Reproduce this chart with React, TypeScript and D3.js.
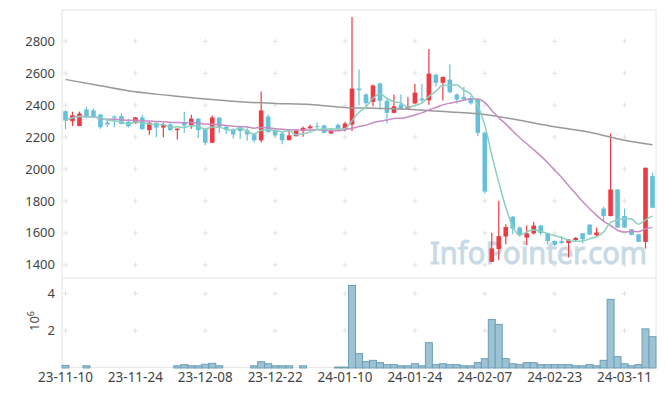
import { useEffect, useRef } from "react";
import * as d3 from "d3";

// trading days shown on the chart
const dates = [
  "2023-11-10", "2023-11-13", "2023-11-14", "2023-11-15", "2023-11-16", "2023-11-17", "2023-11-20", "2023-11-21", "2023-11-22", "2023-11-23",
  "2023-11-24", "2023-11-27", "2023-11-28", "2023-11-29", "2023-11-30", "2023-12-01", "2023-12-04", "2023-12-05", "2023-12-06", "2023-12-07",
  "2023-12-08", "2023-12-11", "2023-12-12", "2023-12-13", "2023-12-14", "2023-12-15", "2023-12-18", "2023-12-19", "2023-12-20", "2023-12-21",
  "2023-12-22", "2023-12-26", "2023-12-27", "2023-12-28", "2024-01-02", "2024-01-03", "2024-01-04", "2024-01-05", "2024-01-08", "2024-01-09",
  "2024-01-10", "2024-01-11", "2024-01-12", "2024-01-15", "2024-01-16", "2024-01-17", "2024-01-18", "2024-01-19", "2024-01-22", "2024-01-23",
  "2024-01-24", "2024-01-25", "2024-01-26", "2024-01-29", "2024-01-30", "2024-01-31", "2024-02-01", "2024-02-02", "2024-02-05", "2024-02-06",
  "2024-02-07", "2024-02-08", "2024-02-13", "2024-02-14", "2024-02-15", "2024-02-16", "2024-02-19", "2024-02-20", "2024-02-21", "2024-02-22",
  "2024-02-23", "2024-02-26", "2024-02-27", "2024-02-28", "2024-02-29", "2024-03-04", "2024-03-05", "2024-03-06", "2024-03-07", "2024-03-08",
  "2024-03-11", "2024-03-12", "2024-03-13", "2024-03-14", "2024-03-15",
];

const opens = [
  2362, 2300, 2269, 2373, 2367, 2342, 2292, 2330, 2331, 2296,
  2287, 2323, 2244, 2290, 2260, 2279, 2244, 2294, 2276, 2316,
  2248, 2165, 2321, 2265, 2248, 2263, 2244, 2217, 2180, 2329,
  2244, 2223, 2181, 2206, 2238, 2256, 2269, 2273, 2223, 2277,
  2248, 2279, 2504, 2467, 2421, 2536, 2427, 2352, 2404, 2379,
  2411, 2442, 2431, 2591, 2540, 2560, 2467, 2452, 2445, 2438,
  2229, 1419, 1500, 1578, 1702, 1634, 1571, 1597, 1646, 1598,
  1550, 1549, 1537, 1556, 1598, 1652, 1586, 1753, 1706, 1872,
  1706, 1623, 1592, 1544, 1956,
];

const highs = [
  2368, 2359, 2360, 2390, 2379, 2345, 2315, 2335, 2350, 2315,
  2326, 2340, 2293, 2292, 2290, 2290, 2256, 2359, 2340, 2318,
  2250, 2336, 2327, 2271, 2256, 2269, 2258, 2227, 2485, 2342,
  2256, 2238, 2238, 2250, 2267, 2278, 2292, 2277, 2256, 2285,
  2296, 2952, 2623, 2475, 2529, 2542, 2436, 2467, 2467, 2450,
  2535, 2532, 2752, 2595, 2580, 2655, 2473, 2515, 2456, 2440,
  2231, 1602, 1802, 1654, 1705, 1640, 1646, 1670, 1650, 1602,
  1553, 1580, 1562, 1575, 1600, 1655, 1633, 1765, 2223, 1874,
  1752, 1625, 1594, 2010, 1977,
];

const lows = [
  2250, 2269, 2269, 2318, 2322, 2252, 2262, 2262, 2280, 2260,
  2285, 2248, 2215, 2200, 2200, 2240, 2185, 2227, 2252, 2195,
  2149, 2163, 2225, 2220, 2192, 2190, 2178, 2166, 2166, 2230,
  2202, 2155, 2180, 2204, 2202, 2250, 2248, 2225, 2221, 2240,
  2235, 2238, 2398, 2375, 2394, 2374, 2286, 2350, 2371, 2375,
  2409, 2420, 2402, 2519, 2430, 2475, 2411, 2430, 2405, 2206,
  1845, 1419, 1431, 1530, 1592, 1577, 1523, 1590, 1585, 1527,
  1520, 1533, 1446, 1548, 1535, 1588, 1577, 1669, 1704, 1630,
  1632, 1585, 1543, 1502, 1755,
];

const closes = [
  2304, 2337, 2348, 2325, 2325, 2262, 2279, 2322, 2282, 2268,
  2324, 2249, 2291, 2260, 2274, 2244, 2253, 2273, 2316, 2244,
  2165, 2323, 2265, 2244, 2217, 2238, 2217, 2180, 2367, 2231,
  2211, 2181, 2211, 2242, 2258, 2267, 2263, 2227, 2244, 2252,
  2285, 2504, 2494, 2413, 2523, 2427, 2352, 2393, 2373, 2394,
  2479, 2431, 2598, 2540, 2577, 2481, 2436, 2436, 2413, 2227,
  1859, 1503, 1580, 1637, 1627, 1586, 1597, 1646, 1600, 1550,
  1526, 1537, 1558, 1569, 1561, 1590, 1603, 1706, 1872, 1634,
  1634, 1588, 1545, 2008, 1758,
];

// volume, millions of shares
const volumes = [
  0.14, 0, 0, 0.12, 0, 0, 0, 0, 0, 0,
  0, 0, 0, 0, 0, 0, 0.12, 0.18, 0.12, 0.12,
  0.2, 0.25, 0.12, 0, 0, 0, 0, 0.12, 0.34, 0.23,
  0.12, 0.12, 0.12, 0, 0.12, 0, 0, 0, 0, 0.05,
  0.05, 4.43, 0.77, 0.34, 0.41, 0.29, 0.18, 0.18, 0.12, 0.12,
  0.23, 0.12, 1.36, 0.18, 0.23, 0.18, 0.18, 0.12, 0.12, 0.29,
  0.5, 2.6, 2.34, 0.5, 0.23, 0.18, 0.29, 0.29, 0.18, 0.18,
  0.18, 0.18, 0.18, 0.12, 0.12, 0.18, 0.12, 0.41, 3.68, 0.61,
  0.23, 0.12, 0.18, 2.1, 1.68,
];

// long moving average at a few days
const longMaDays = [0, 5, 10, 15, 20, 25, 30, 35, 40, 45, 50, 55, 60, 65, 70, 75, 80, 84];
const longMaValues = [2561, 2522, 2484, 2460, 2438, 2421, 2411, 2404, 2386, 2380, 2372, 2358, 2342, 2305, 2265, 2231, 2181, 2153];

const priceTicks = [1400, 1600, 1800, 2000, 2200, 2400, 2600, 2800];
const volumeTicks = [2, 4];

export default function App() {
  const svgRef = useRef<SVGSVGElement | null>(null);

  useEffect(() => {
    if (!svgRef.current) return;
    const svg = d3.select(svgRef.current);
    svg.selectAll("*").remove();

    const left = 62;
    const right = 656;
    const top = 10;
    const split = 278;
    const bottom = 368;
    const font = "'Noto Sans', sans-serif";

    const idx = d3.range(dates.length);
    const x = d3.scaleBand<number>().domain(idx).range([left, right]);
    const cx = (i: number) => (x(i) as number) + x.bandwidth() / 2;
    const y = d3.scaleLinear().domain([1318, 2996]).range([split, top]);
    const yv = d3.scaleLinear().domain([0, 4.83]).range([bottom, split]);

    const xTicks = idx.filter((i) => i % 10 === 0);

    // frame
    svg
      .append("rect")
      .attr("x", left)
      .attr("y", top)
      .attr("width", right - left)
      .attr("height", bottom - 0.7 - top)
      .attr("fill", "none")
      .attr("stroke", "#e4e4e4");
    svg
      .append("line")
      .attr("x1", left)
      .attr("x2", right)
      .attr("y1", split)
      .attr("y2", split)
      .attr("stroke", "#e4e4e4");

    // grid crosses
    const cross = (px: number, py: number) =>
      `M${px - 2.5},${py}H${px + 2.5}M${px},${py - 2.5}V${py + 2.5}`;
    const crossPath = [
      ...xTicks.flatMap((i) => priceTicks.map((t) => cross(cx(i), y(t)))),
      ...xTicks.flatMap((i) => volumeTicks.map((t) => cross(cx(i), yv(t)))),
    ].join("");
    svg.append("path").attr("d", crossPath).attr("stroke", "#e2e2e2").attr("fill", "none");

    // watermark
    svg
      .append("text")
      .attr("x", 430)
      .attr("y", 264)
      .attr("textLength", 217)
      .attr("lengthAdjust", "spacingAndGlyphs")
      .attr("font-family", font)
      .attr("font-size", 31)
      .attr("fill", "#c8dae5")
      .attr("stroke", "#c8dae5")
      .attr("stroke-width", 1)
      .text("InfoPointer.com");

    // candles
    const up = "#ee3a43";
    const down = "#67c0da";
    const candles = svg.append("g").selectAll("g").data(idx).join("g");
    candles
      .append("line")
      .attr("x1", cx)
      .attr("x2", cx)
      .attr("y1", (i) => y(highs[i]))
      .attr("y2", (i) => y(lows[i]))
      .attr("stroke", (i) => (closes[i] >= opens[i] ? up : down))
      .attr("stroke-width", 1.2);
    candles
      .append("rect")
      .attr("x", (i) => cx(i) - 2.3)
      .attr("width", 4.6)
      .attr("y", (i) => y(Math.max(opens[i], closes[i])))
      .attr("height", (i) => Math.max(1, Math.abs(y(opens[i]) - y(closes[i]))))
      .attr("fill", (i) => (closes[i] >= opens[i] ? up : down));

    // moving averages
    const movingAverage = (n: number) =>
      closes.map((_, i) => d3.mean(closes.slice(Math.max(0, i - n + 1), i + 1)) as number);
    const line = d3
      .line<number>()
      .x((_, i) => cx(i))
      .y((v) => y(v))
      .curve(d3.curveMonotoneX);
    const longLine = d3
      .line<number>()
      .x((_, k) => cx(longMaDays[k]))
      .y((v) => y(v))
      .curve(d3.curveMonotoneX);

    svg
      .append("path")
      .attr("d", longLine(longMaValues))
      .attr("fill", "none")
      .attr("stroke", "#999")
      .attr("stroke-width", 1.5);
    svg
      .append("path")
      .attr("d", line(movingAverage(20)))
      .attr("fill", "none")
      .attr("stroke", "#c88bc3")
      .attr("stroke-width", 1.5);
    svg
      .append("path")
      .attr("d", line(movingAverage(5)))
      .attr("fill", "none")
      .attr("stroke", "#8ccfbe")
      .attr("stroke-width", 1.5);

    // volume
    svg
      .append("g")
      .selectAll("rect")
      .data(idx.filter((i) => volumes[i] > 0))
      .join("rect")
      .attr("x", (i) => x(i) as number)
      .attr("width", x.bandwidth())
      .attr("y", (i) => yv(volumes[i]))
      .attr("height", (i) => bottom - yv(volumes[i]))
      .attr("fill", "#9cc2d3")
      .attr("stroke", "#6e9fb7")
      .attr("stroke-width", 1);

    // y labels
    svg
      .append("g")
      .selectAll("text")
      .data(priceTicks)
      .join("text")
      .attr("x", 55)
      .attr("y", (t) => y(t) + 4.5)
      .attr("text-anchor", "end")
      .attr("font-family", font)
      .attr("font-size", 13)
      .attr("fill", "#444")
      .text((t) => t);
    svg
      .append("g")
      .selectAll("text")
      .data(volumeTicks)
      .join("text")
      .attr("x", 55)
      .attr("y", (t) => yv(t) + 4.5)
      .attr("text-anchor", "end")
      .attr("font-family", font)
      .attr("font-size", 13)
      .attr("fill", "#444")
      .text((t) => t);

    const unit = svg
      .append("text")
      .attr("transform", "translate(38.5,321) rotate(-90)")
      .attr("text-anchor", "middle")
      .attr("font-family", font)
      .attr("font-size", 13)
      .attr("fill", "#444");
    unit.append("tspan").text("10");
    unit.append("tspan").attr("dy", -5).attr("font-size", 9).text("6");

    // x labels
    const fmt = d3.timeFormat("%y-%m-%d");
    const parse = d3.timeParse("%Y-%m-%d");
    svg
      .append("g")
      .selectAll("text")
      .data(xTicks)
      .join("text")
      .attr("x", cx)
      .attr("y", 382)
      .attr("text-anchor", "middle")
      .attr("font-family", font)
      .attr("font-size", 13.5)
      .attr("fill", "#444")
      .text((i) => fmt(parse(dates[i])!));
  }, []);

  return (
    <svg
      ref={svgRef}
      width={665}
      height={396}
      style={{ position: "absolute", left: 0, top: 0, background: "#fff" }}
    ></svg>
  );
}
